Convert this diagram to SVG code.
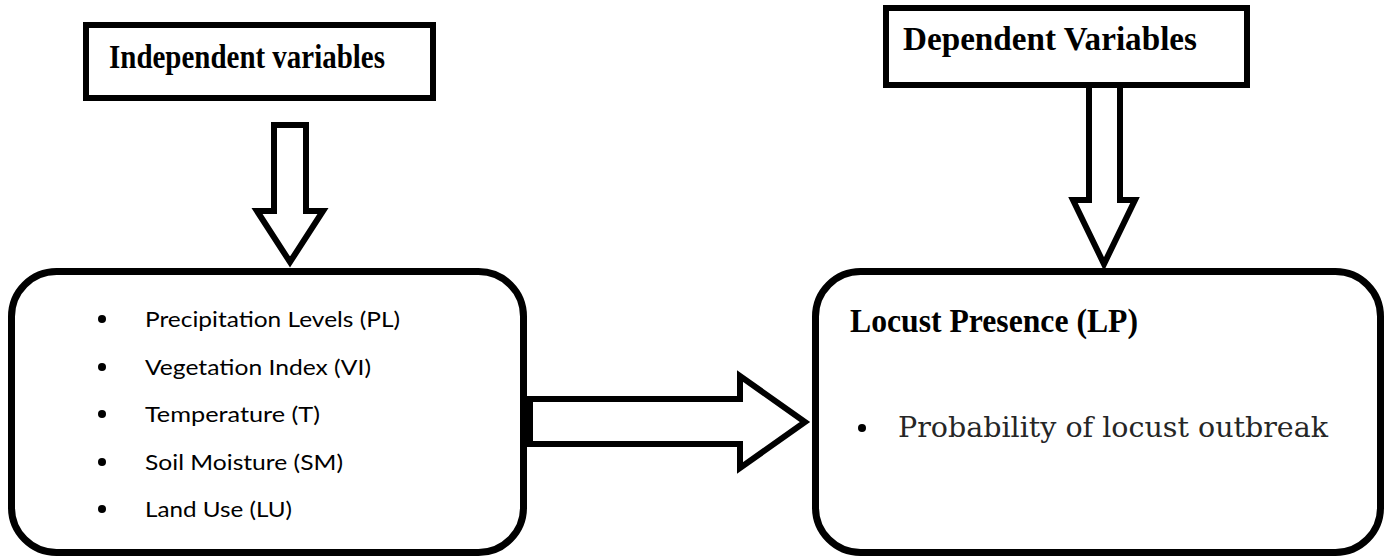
<svg xmlns="http://www.w3.org/2000/svg" width="1390" height="560" viewBox="0 0 1390 560">
<style>
.hbox{fill:#fff;stroke:#000;stroke-width:6}
.rbox{fill:#fff;stroke:#000;stroke-width:7}
.arrow{fill:#fff;stroke:#000;stroke-width:6;stroke-linejoin:miter;stroke-miterlimit:10}
.head{font-family:"Liberation Serif","Times New Roman",serif;font-weight:bold;font-size:34px;fill:#000}
.item{font-family:Lato,"Open Sans",sans-serif;font-size:22px;fill:#000}
.prob{font-family:"DejaVu Serif",Georgia,serif;font-size:28px;fill:#262626}
</style>
<rect width="1390" height="560" fill="#fff"/>
<g id="independent-header">
<rect class="hbox" x="86" y="25" width="347" height="73"/>
<text class="head" x="109" y="68" textLength="276" lengthAdjust="spacingAndGlyphs">Independent variables</text>
</g>
<g id="dependent-header">
<rect class="hbox" x="886" y="8" width="361" height="77"/>
<text class="head" x="903" y="50" textLength="294" lengthAdjust="spacingAndGlyphs">Dependent Variables</text>
</g>
<g id="independent-box">
<rect class="rbox" x="11.5" y="271.5" width="512" height="281" rx="45" ry="45"/>
<g fill="#000">
<circle cx="102" cy="319" r="4"/>
<circle cx="102" cy="367" r="4"/>
<circle cx="102" cy="414" r="4"/>
<circle cx="102" cy="462" r="4"/>
<circle cx="102" cy="509" r="4"/>
</g>
<text class="item" x="145" y="327" textLength="255" lengthAdjust="spacingAndGlyphs">Precipitation Levels (PL)</text>
<text class="item" x="145" y="375" textLength="226" lengthAdjust="spacingAndGlyphs">Vegetation Index (VI)</text>
<text class="item" x="145" y="422" textLength="175" lengthAdjust="spacingAndGlyphs">Temperature (T)</text>
<text class="item" x="145" y="470" textLength="198" lengthAdjust="spacingAndGlyphs">Soil Moisture (SM)</text>
<text class="item" x="145" y="517" textLength="147" lengthAdjust="spacingAndGlyphs">Land Use (LU)</text>
</g>
<g id="dependent-box">
<rect class="rbox" x="815.5" y="271.5" width="565" height="281" rx="45" ry="45"/>
<text class="head" x="850" y="332" textLength="288" lengthAdjust="spacingAndGlyphs">Locust Presence (LP)</text>
<circle cx="862" cy="428" r="4" fill="#000"/>
<text class="prob" x="898" y="437" textLength="430" lengthAdjust="spacingAndGlyphs">Probability of locust outbreak</text>
</g>
<g id="connectors">
<polygon class="arrow" points="274,125 306,125 306,211 323,211 290,262 257,211 274,211"/>
<polygon class="arrow" points="1089,85 1120,85 1120,200 1135,200 1104,264 1073,200 1089,200"/>
<polygon class="arrow" points="530,399 740,399 740,376 805,422 740,468 740,444 530,444"/>
</g>
</svg>
